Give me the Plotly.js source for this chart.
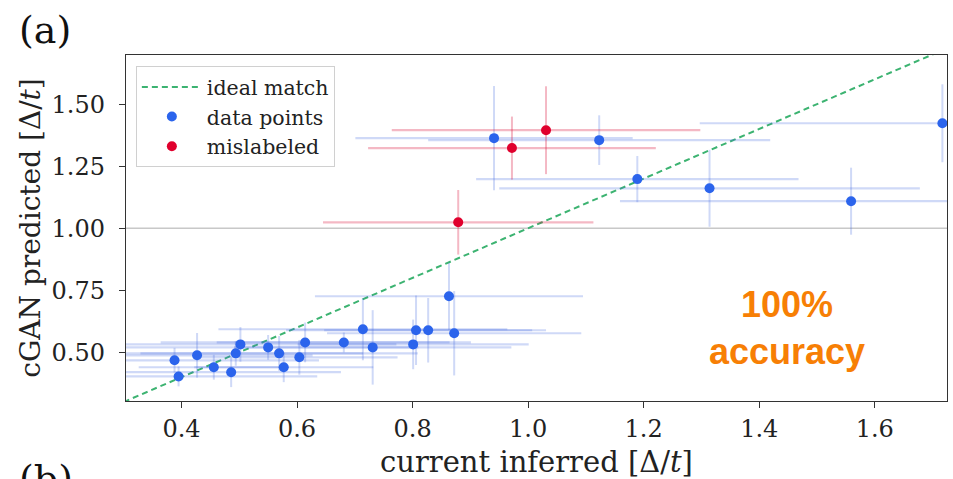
<!DOCTYPE html>
<html>
<head>
<meta charset="utf-8">
<script src="https://cdn.plot.ly/plotly-3.0.1.min.js"></script>
<style>
  html, body { margin: 0; padding: 0; background: #fff; }
  #chart { width: 953px; height: 479px; }
</style>
</head>
<body>
<div id="chart"></div>
<script>
// Correctly labelled samples: inferred current vs. cGAN prediction, with uncertainties
const pointsX    = [0.941, 1.123, 1.189, 1.314, 1.559, 1.717, 0.863, 0.872, 0.827, 0.806, 0.801, 0.714, 0.731, 0.681, 0.614, 0.604, 0.577, 0.569, 0.550, 0.502, 0.494, 0.486, 0.456, 0.427, 0.395, 0.388];
const pointsY    = [1.363, 1.355, 1.198, 1.161, 1.109, 1.423, 0.726, 0.577, 0.589, 0.589, 0.532, 0.593, 0.520, 0.540, 0.540, 0.480, 0.440, 0.496, 0.520, 0.532, 0.496, 0.420, 0.440, 0.488, 0.403, 0.468];
const pointsXErr = [0.240, 0.296, 0.279, 0.364, 0.400, 0.420, 0.232, 0.220, 0.180, 0.225, 0.200, 0.250, 0.240, 0.220, 0.250, 0.170, 0.155, 0.240, 0.260, 0.270, 0.220, 0.190, 0.130, 0.200, 0.240, 0.250];
const pointsYErr = [0.210, 0.100, 0.093, 0.155, 0.135, 0.157, 0.135, 0.170, 0.130, 0.140, 0.100, 0.125, 0.150, 0.040, 0.080, 0.070, 0.060, 0.070, 0.050, 0.070, 0.050, 0.060, 0.050, 0.090, 0.040, 0.050];

// Mislabelled samples
const misX    = [1.031, 0.972, 0.879];
const misY    = [1.395, 1.323, 1.024];
const misXErr = [0.267, 0.249, 0.234];
const misYErr = [0.177, 0.127, 0.130];

// Ideal y = x reference
const idealX = [0.30, 1.75];
const idealY = [0.30, 1.75];

// Axis ticks
const xTicks = [0.4, 0.6, 0.8, 1.0, 1.2, 1.4, 1.6];
const xTickText = ['0.4', '0.6', '0.8', '1.0', '1.2', '1.4', '1.6'];
const yTicks = [0.5, 0.75, 1.0, 1.25, 1.5];
const yTickText = ['0.50', '0.75', '1.00', '1.25', '1.50'];

const SERIF = '"DejaVu Serif", serif';
const BLUE = '#2b64ec';
const RED = '#e0002d';

const traces = [
  {
    x: idealX, y: idealY, mode: 'lines', name: 'ideal match', legendgroup: 'g1',
    line: { color: '#3cb371', width: 2, dash: '6px,4px' }
  },
  {
    x: pointsX, y: pointsY, mode: 'markers', name: 'data points', legendgroup: 'g2',
    marker: { color: BLUE, size: 10 },
    error_x: { type: 'data', array: pointsXErr, visible: true, color: 'rgba(65,105,225,0.25)', thickness: 2.2, width: 0 },
    error_y: { type: 'data', array: pointsYErr, visible: true, color: 'rgba(65,105,225,0.25)', thickness: 2, width: 0 }
  },
  {
    x: misX, y: misY, mode: 'markers', name: 'mislabeled', legendgroup: 'g3',
    marker: { color: RED, size: 10 },
    error_x: { type: 'data', array: misXErr, visible: true, color: 'rgba(220,20,60,0.3)', thickness: 2.2, width: 0 },
    error_y: { type: 'data', array: misYErr, visible: true, color: 'rgba(220,20,60,0.3)', thickness: 2, width: 0 }
  }
];

const layout = {
  width: 953, height: 479,
  margin: { l: 126, r: 6, t: 55, b: 78 },
  paper_bgcolor: '#fff', plot_bgcolor: '#fff',
  font: { family: SERIF, color: '#222' },
  showlegend: true,
  legend: {
    x: 0.012, y: 0.968, xanchor: 'left', yanchor: 'top',
    bgcolor: 'rgba(255,255,255,0.9)', bordercolor: '#d0d0d0', borderwidth: 1,
    font: { family: SERIF, size: 20.5, color: '#222' },
    traceorder: 'grouped', tracegroupgap: 0, itemwidth: 60
  },
  xaxis: {
    range: [0.304, 1.725], tickvals: xTicks, ticktext: xTickText,
    showgrid: false, zeroline: false,
    showline: true, mirror: true, linecolor: '#333', linewidth: 1.2,
    ticks: 'outside', ticklen: 6, tickcolor: '#333',
    tickfont: { family: SERIF, size: 24, color: '#222' },
    title: { text: 'current inferred [Δ/<i>t</i>]', font: { family: SERIF, size: 29, color: '#222' }, standoff: 10 }
  },
  yaxis: {
    range: [0.304, 1.698], tickvals: yTicks, ticktext: yTickText,
    showgrid: false, zeroline: false,
    showline: true, mirror: true, linecolor: '#333', linewidth: 1.2,
    ticks: 'outside', ticklen: 6, tickcolor: '#333', ticklabelstandoff: 9,
    tickfont: { family: SERIF, size: 24, color: '#222' },
    title: { text: 'cGAN predicted [Δ/<i>t</i>]', font: { family: SERIF, size: 28, color: '#222' }, standoff: 2 }
  },
  shapes: [
    { type: 'line', xref: 'paper', x0: 0, x1: 1, yref: 'y', y0: 1.0, y1: 1.0,
      line: { color: '#c8c8c8', width: 1.5 }, layer: 'below' }
  ],
  annotations: [
    { text: '(a)', xref: 'paper', yref: 'paper', x: -0.133, y: 1.072, xanchor: 'left', yanchor: 'middle',
      showarrow: false, font: { family: SERIF, size: 38, color: '#111' } },
    { text: '(b)', xref: 'paper', yref: 'paper', x: -0.133, y: -0.226, xanchor: 'left', yanchor: 'middle',
      showarrow: false, font: { family: SERIF, size: 38, color: '#111' } },
    { text: '<b>100%<br>accuracy</b>', xref: 'x', yref: 'y', x: 1.448, y: 0.599, xanchor: 'center', yanchor: 'middle',
      showarrow: false, align: 'center', font: { family: '"Liberation Sans", Arial, sans-serif', size: 36, color: '#f77f05' } }
  ]
};

Plotly.newPlot('chart', traces, layout, { displayModeBar: false, staticPlot: true });
</script>
</body>
</html>
